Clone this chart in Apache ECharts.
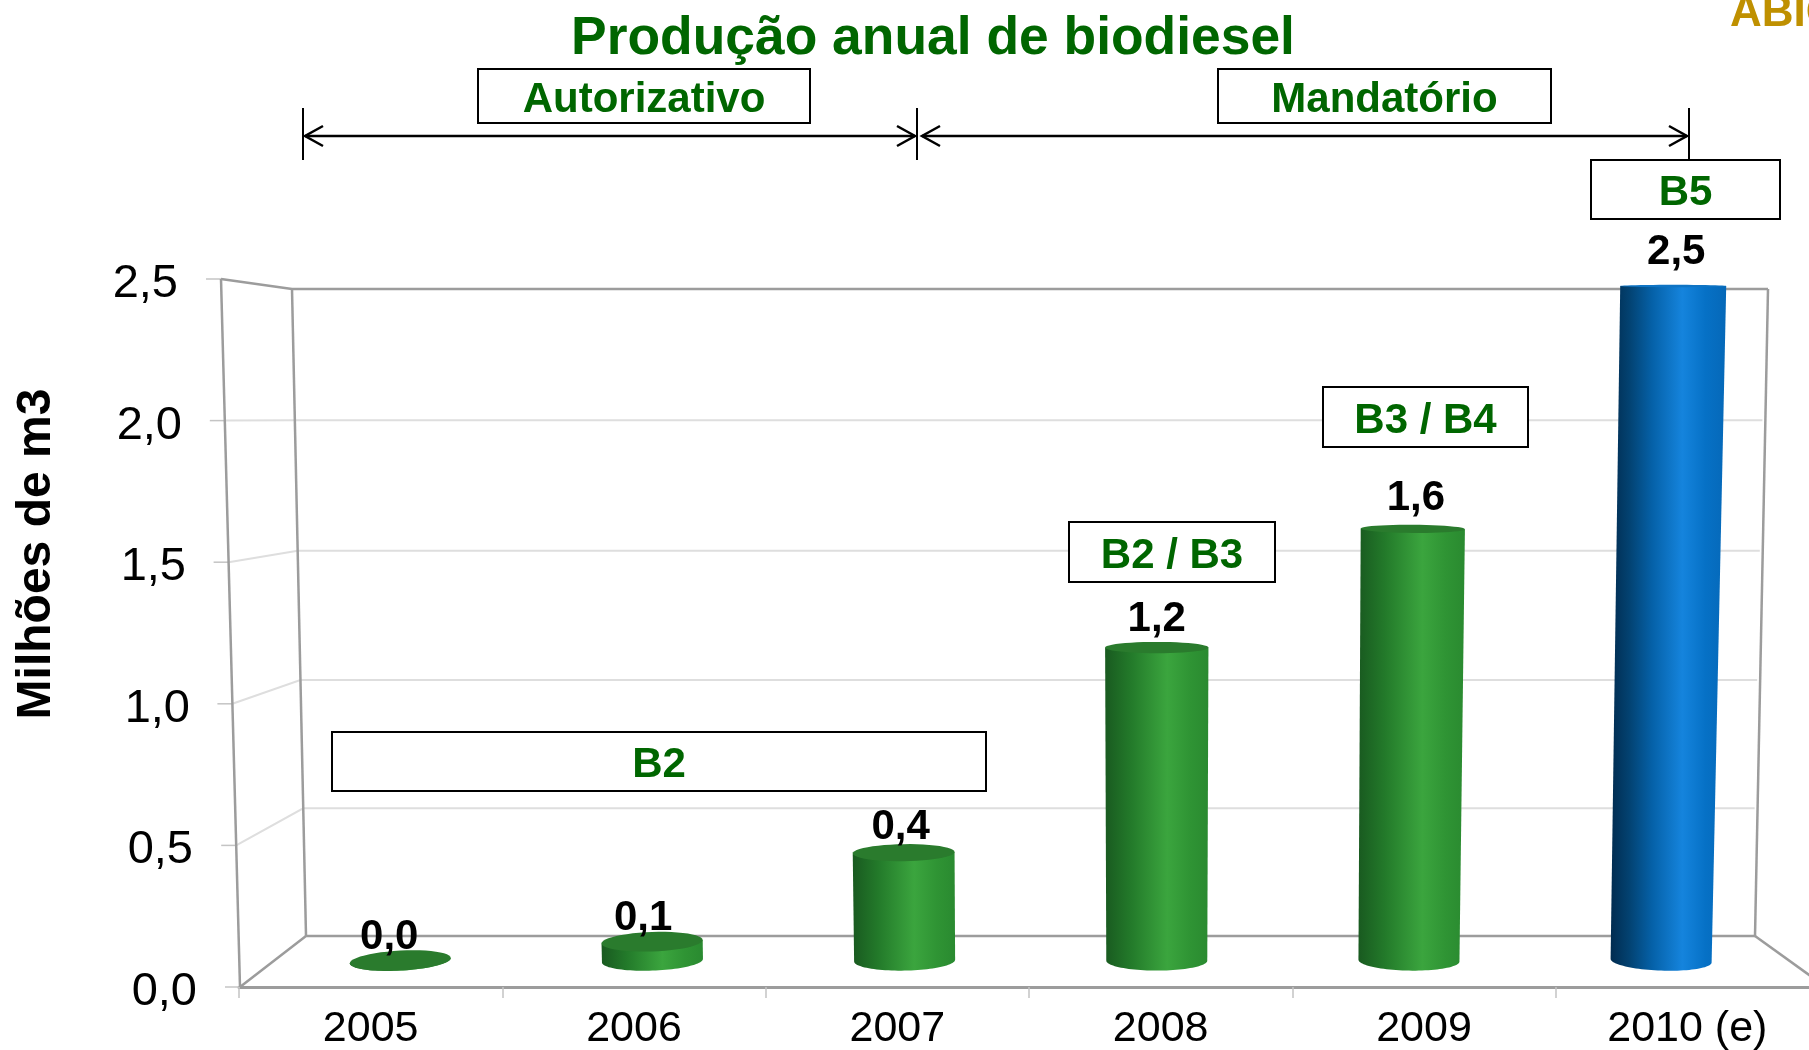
<!DOCTYPE html>
<html>
<head>
<meta charset="utf-8">
<style>html,body{margin:0;padding:0;background:#fff;overflow:hidden}#c{width:1809px;height:1050px}</style>
<script src="https://cdn.jsdelivr.net/npm/echarts@6/dist/echarts.min.js"></script>
</head>
<body>
<div id="c"></div>
<script>
// ---- data ----
const categories = ['2005', '2006', '2007', '2008', '2009', '2010 (e)'];
const production = [0.0, 0.07, 0.4, 1.16, 1.6, 2.5];
const yTicks = [0, 0.5, 1, 1.5, 2, 2.5];
const titleText = 'Produção anual de biodiesel';
const yName = 'Milhões de m3';
const phaseBoxes = ['Autorizativo', 'Mandatório', 'B5', 'B3 / B4', 'B2 / B3', 'B2'];
const barKinds = ['green', 'green', 'green', 'green', 'green', 'blue'];

// ---- styling and layout of the 3D frame ----
const FONT = '"Liberation Sans", Arial, sans-serif';
const GREEN = '#006600';
const gradients = {
  green: [[0, '#195a20'], [0.25, '#237a2a'], [0.6, '#3ba53e'], [0.82, '#2f9434'], [1, '#2a8a30']],
  blue: [[0, '#012c50'], [0.16, '#034271'], [0.36, '#0561a8'], [0.62, '#1584dd'], [0.82, '#0671c6'], [1, '#0568b8']]
};
const capColors = { green: '#2a7b2d', blue: '#0f74c4' };
const frame = {
  frontTopX: 221, frontBottomX: 240, backTopX: 292, backBottomX: 306,
  backTopY: 289, backBottomY: 936, backBow: 3, rightTopX: 1768, rightBottomX: 1755, rightFloorEndX: 1825
};
const boxRects = [
  [478, 69, 332, 54], [1218, 69, 333, 54], [1591, 160, 189, 59],
  [1323, 387, 205, 60], [1069, 522, 206, 60], [332, 732, 654, 59]
];
const labelNudgeX = [-11, -9, -3, 0, 3, 3];
const mmArrowY = 136;

const toComma = v => v.toFixed(1).replace('.', ',');

const labelRich = { t: { fontFamily: FONT, fontSize: 47, color: '#000' } };
yTicks.forEach(v => { labelRich['p' + Math.round(v * 10)] = { width: Math.round(v * 7.4), height: 1 }; });

function frameItem(params, api) {
  const v = api.value(1);
  const p = api.coord([0, v]);
  const frontBottom = api.coord([0, 0])[1];
  const frontTop = api.coord([0, 2.5])[1];
  const f = (frontBottom - p[1]) / (frontBottom - frontTop);
  const fx = frame.frontBottomX + (frame.frontTopX - frame.frontBottomX) * f;
  const bx = frame.backBottomX + (frame.backTopX - frame.backBottomX) * f;
  const by = frame.backBottomY + (frame.backTopY - frame.backBottomY) * f + frame.backBow * Math.sin(Math.PI * f);
  const rx = frame.rightBottomX + (frame.rightTopX - frame.rightBottomX) * f;
  const isTop = v === 2.5, isFloor = v === 0;
  const dark = isTop || isFloor;
  const stroke = dark ? '#9c9c9c' : '#dedede';
  const children = [
    { type: 'line', shape: { x1: fx - 15, y1: p[1], x2: fx, y2: p[1] }, style: { stroke: '#c4c4c4', lineWidth: 1.5 } },
    { type: 'polyline', shape: { points: [[fx, p[1]], [bx, by], [rx - (dark ? 0 : 3), by]] }, style: { stroke, lineWidth: dark ? 2.5 : 2, fill: null } }
  ];
  if (isFloor) {
    children.push({ type: 'line', shape: { x1: rx, y1: by, x2: frame.rightFloorEndX, y2: by + (frame.rightFloorEndX - rx) * 0.72 }, style: { stroke, lineWidth: 2.5 } });
  }
  return { type: 'group', children };
}

function frameEdges(params, api) {
  const top = api.coord([0, 2.5])[1], bottom = api.coord([0, 0])[1];
  const edge = (x1, y1, x2, y2) => ({ type: 'line', shape: { x1, y1, x2, y2 }, style: { stroke: '#9c9c9c', lineWidth: 2.5 } });
  return { type: 'group', children: [
    edge(frame.frontTopX, top, frame.frontBottomX, bottom),
    edge(frame.backTopX, frame.backTopY, frame.backBottomX, frame.backBottomY),
    edge(frame.rightTopX, frame.backTopY, frame.rightBottomX, frame.backBottomY)
  ] };
}

function ellipsePts(cx, cy, rx, ry, rot, from, to) {
  const pts = [], n = 48, t = Math.tan(rot);
  for (let i = 0; i <= n; i++) {
    const a = from + (to - from) * i / n;
    const dx = rx * Math.cos(a);
    pts.push([cx + dx, cy + ry * Math.sin(a) + dx * t]);
  }
  return pts;
}

function cylinderItem(params, api) {
  const i = api.value(0), v = api.value(1);
  const base = api.coord([i, 0]);
  const head = api.coord([i, v]);
  const mid = api.coord([2.5, 0])[0];
  const rel = v / 2.5;
  const off = base[0] - mid;
  const topX = base[0] + off * 0.024 * rel;
  const rBase = 50.5, rTop = rBase + 2.5 * rel;
  const ryBase = 10, ryTop = Math.max(1.2, 10 * (1 - v / 2.7));
  const rot = 2.5 * Math.PI / 180 * off / 630;
  const rotTop = rot * (1 - rel);
  const kind = barKinds[i];
  const bodyPts = [[topX - rTop, head[1] - (rTop * Math.tan(rotTop))]]
    .concat(ellipsePts(base[0], base[1], rBase, ryBase, rot, Math.PI, 0))
    .concat([[topX + rTop, head[1] + (rTop * Math.tan(rotTop))]]);
  const fill = new echarts.graphic.LinearGradient(0, 0, 1, 0,
    gradients[kind].map(s => ({ offset: s[0], color: s[1] })));
  return { type: 'group', children: [
    { type: 'polygon', shape: { points: bodyPts }, style: { fill } },
    { type: 'polygon', shape: { points: ellipsePts(topX, head[1], rTop, ryTop, rotTop, 0, Math.PI * 2) }, style: { fill: capColors[kind] } },
    { type: 'text', style: {
      text: toComma(v), x: topX + labelNudgeX[i], y: head[1] - 23 - 11 * rel,
      align: 'center', verticalAlign: 'middle',
      font: 'bold 42px ' + FONT, fill: '#000'
    }, z2: 10 }
  ] };
}

function arrow(x1, x2) {
  const y = mmArrowY, L = 18, H = 10, st = { stroke: '#000', lineWidth: 2.5, fill: null };
  return [
    { type: 'line', z: 50, shape: { x1, y1: y, x2, y2: y }, style: st },
    { type: 'polyline', z: 50, shape: { points: [[x1 + L, y - H], [x1, y], [x1 + L, y + H]] }, style: st },
    { type: 'polyline', z: 50, shape: { points: [[x2 - L, y - H], [x2, y], [x2 - L, y + H]] }, style: st }
  ];
}
const vbar = x => ({ type: 'line', z: 50, shape: { x1: x, y1: 108, x2: x, y2: 160 }, style: { stroke: '#000', lineWidth: 2 } });

const graphicEls = [
  ...arrow(305, 915), ...arrow(922, 1687),
  vbar(303), vbar(917), vbar(1689),
  ...phaseBoxes.map((t, i) => {
    const r = boxRects[i];
    return {
      type: 'rect', z: 60,
      shape: { x: r[0], y: r[1], width: r[2], height: r[3] },
      style: { fill: '#fff', stroke: '#000', lineWidth: 2 }
    };
  }),
  ...phaseBoxes.map((t, i) => {
    const r = boxRects[i];
    return {
      type: 'text', z: 61, x: r[0] + r[2] / 2, y: r[1] + r[3] / 2 + 4,
      style: { text: t, font: 'bold 42px ' + FONT, fill: GREEN, align: 'center', verticalAlign: 'middle' }
    };
  }),
  { type: 'text', z: 60, x: 1730, y: -8, style: { text: 'ABIO', font: 'bold 44px ' + FONT, fill: '#bf9000', verticalAlign: 'top' } }
];

const chart = echarts.init(document.getElementById('c'), null, { renderer: 'canvas' });
chart.setOption({
  animation: false,
  backgroundColor: '#fff',
  title: { text: titleText, left: 928, top: 8, textAlign: 'center', textStyle: { fontFamily: FONT, fontWeight: 'bold', fontSize: 53.4, color: GREEN } },
  grid: [
    { left: 239, top: 279, width: 1580, height: 708, containLabel: false, outerBoundsMode: 'none' },
    { left: 274.2, top: 286, width: 1513, height: 674.6, containLabel: false, outerBoundsMode: 'none' }
  ],
  xAxis: [
    { type: 'category', gridIndex: 0, data: categories,
      axisLine: { show: true, lineStyle: { color: '#9c9c9c', width: 3 } },
      axisTick: { show: true, length: 11, lineStyle: { color: '#c4c4c4', width: 1.5 } },
      axisLabel: { fontFamily: FONT, fontSize: 43, color: '#000', margin: 21, hideOverlap: false } },
    { type: 'category', gridIndex: 1, data: categories, show: false }
  ],
  yAxis: [
    { type: 'value', gridIndex: 0, min: 0, max: 2.5, interval: 0.5,
      name: yName, nameLocation: 'middle', nameGap: 178, nameRotate: 90,
      nameTextStyle: { fontFamily: FONT, fontWeight: 'bold', fontSize: 48, color: '#000', padding: [0, 0, 0, 158] },
      axisLine: { show: false }, axisTick: { show: false }, splitLine: { show: false },
      axisLabel: { margin: 42, padding: [10, 0, 0, 0], formatter: v => `{t|${toComma(v)}}{p${Math.round(v * 10)}|}`, rich: labelRich } },
    { type: 'value', gridIndex: 1, min: 0, max: 2.5, interval: 0.5, show: false }
  ],
  series: [
    { type: 'custom', name: 'frame-grid', xAxisIndex: 0, yAxisIndex: 0, z: 1, clip: false, silent: true,
      data: yTicks.map(v => [0, v]), renderItem: frameItem },
    { type: 'custom', name: 'frame-edges', xAxisIndex: 0, yAxisIndex: 0, z: 1, clip: false, silent: true,
      data: [[0, 0]], renderItem: frameEdges },
    { type: 'custom', name: 'Produção', xAxisIndex: 1, yAxisIndex: 1, z: 5, clip: false,
      data: production.map((v, i) => [i, v]), renderItem: cylinderItem, encode: { x: 0, y: 1 } }
  ],
  graphic: { elements: graphicEls }
});
</script>
</body>
</html>
